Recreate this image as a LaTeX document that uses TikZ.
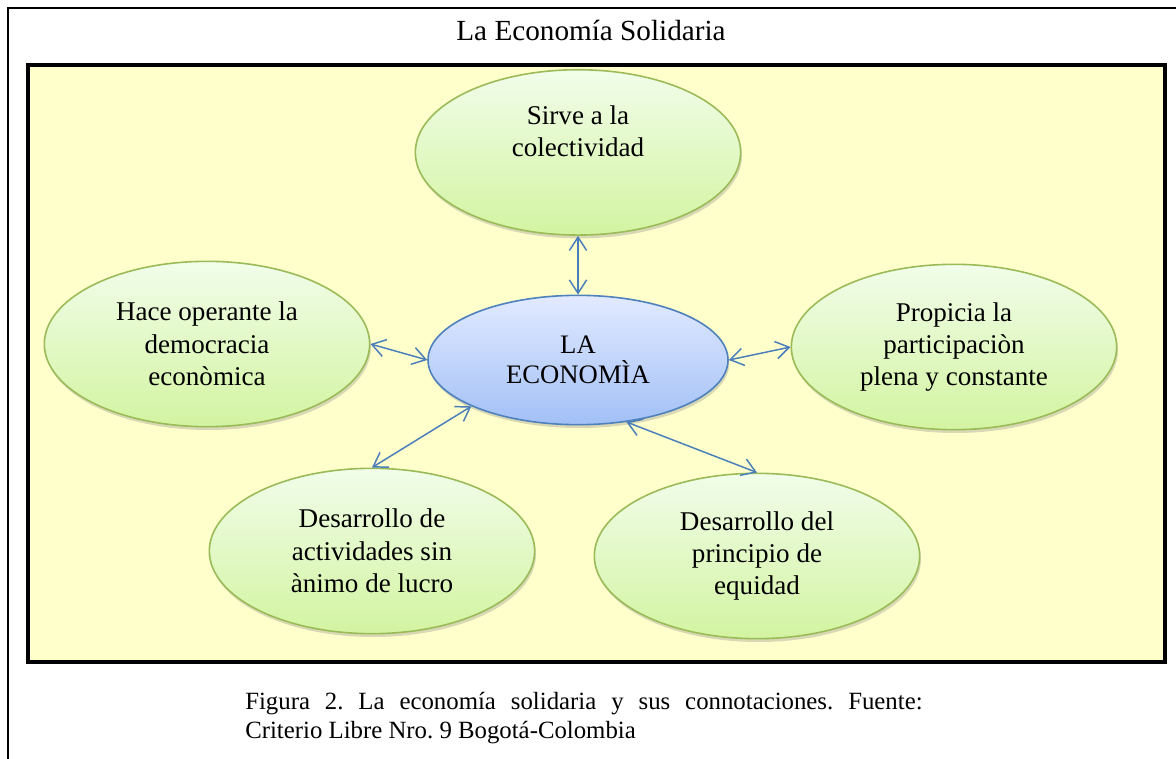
\documentclass[tikz,border=0pt]{standalone}
\usepackage{fontspec}
\setmainfont{Liberation Serif}
\usetikzlibrary{arrows.meta, positioning, shapes.geometric, shadows}
\definecolor{ideaTop}{HTML}{F1FDEA}
\definecolor{ideaBottom}{HTML}{D3F4A1}
\definecolor{ideaLine}{HTML}{9BBB59}
\definecolor{coreTop}{HTML}{E2EAFF}
\definecolor{coreBottom}{HTML}{A2C0F6}
\definecolor{coreLine}{HTML}{4F81BD}
\definecolor{arrowBlue}{HTML}{4A7EBB}
\definecolor{panelYellow}{HTML}{FFFFCC}
\frenchspacing

\begin{document}
\begin{tikzpicture}[
  x=0.75pt, y=-0.75pt,
  idea/.style={ellipse, draw=ideaLine, line width=1.2pt, top color=ideaTop, bottom color=ideaBottom,
    minimum width=244pt, minimum height=124pt, inner sep=1pt, align=center,
    font=\fontsize{20.3}{24.3}\selectfont,
    drop shadow={shadow xshift=1pt, shadow yshift=-2.5pt, opacity=0.3}},
  core/.style={ellipse, draw=coreLine, line width=1.2pt, top color=coreTop, bottom color=coreBottom,
    minimum width=225pt, minimum height=97pt, inner sep=1pt, align=center,
    font=\fontsize{20}{22.5}\selectfont,
    drop shadow={shadow xshift=1pt, shadow yshift=-2.5pt, opacity=0.3}},
  arr/.style={{Straight Barb[length=10pt,width=13pt]}-{Straight Barb[length=10pt,width=13pt]}, draw=arrowBlue, line width=1.1pt}
]
\useasboundingbox (0,0) rectangle (1176,759);
\draw[line width=1.5pt] (8,759) -- (8,8) -- (1176,8);
\node[font=\fontsize{21.9}{26}\selectfont] (title) at (591,30) {La Economía Solidaria};
\draw[fill=panelYellow, line width=2.4pt] (28,65) rectangle (1165,662);

\node[core] (economia) at (578,360) {LA\\ECONOMÌA};
\node[idea, above=44pt of economia] (colectividad) {Sirve a la\\colectividad\\\strut};
\node[idea] (democracia) at (207,344) {Hace operante la\\democracia\\econòmica};
\node[idea] (participacion) at (954,347) {Propicia la\\participaciòn\\plena y constante};
\node[idea] (lucro) at (372,551) {Desarrollo de\\actividades sin\\ànimo de lucro};
\node[idea] (equidad) at (757,556) {Desarrollo del\\principio de\\equidad};

\draw[arr] (colectividad) -- (economia);
\draw[arr] (democracia.east) -- (economia.west);
\draw[arr] (economia.east) -- (participacion.west);
\draw[arr] (lucro.north) -- (economia.south west);
\draw[arr] (economia.-52) -- (equidad.north);

\node[anchor=north west, align=left, inner sep=0pt, font=\fontsize{18.6}{21.8}\selectfont] (caption) at (245,692)
  {\makebox[508pt][s]{Figura 2. La economía solidaria y sus connotaciones. Fuente:}\\Criterio Libre Nro. 9 Bogotá-Colombia};
\end{tikzpicture}
\end{document}
